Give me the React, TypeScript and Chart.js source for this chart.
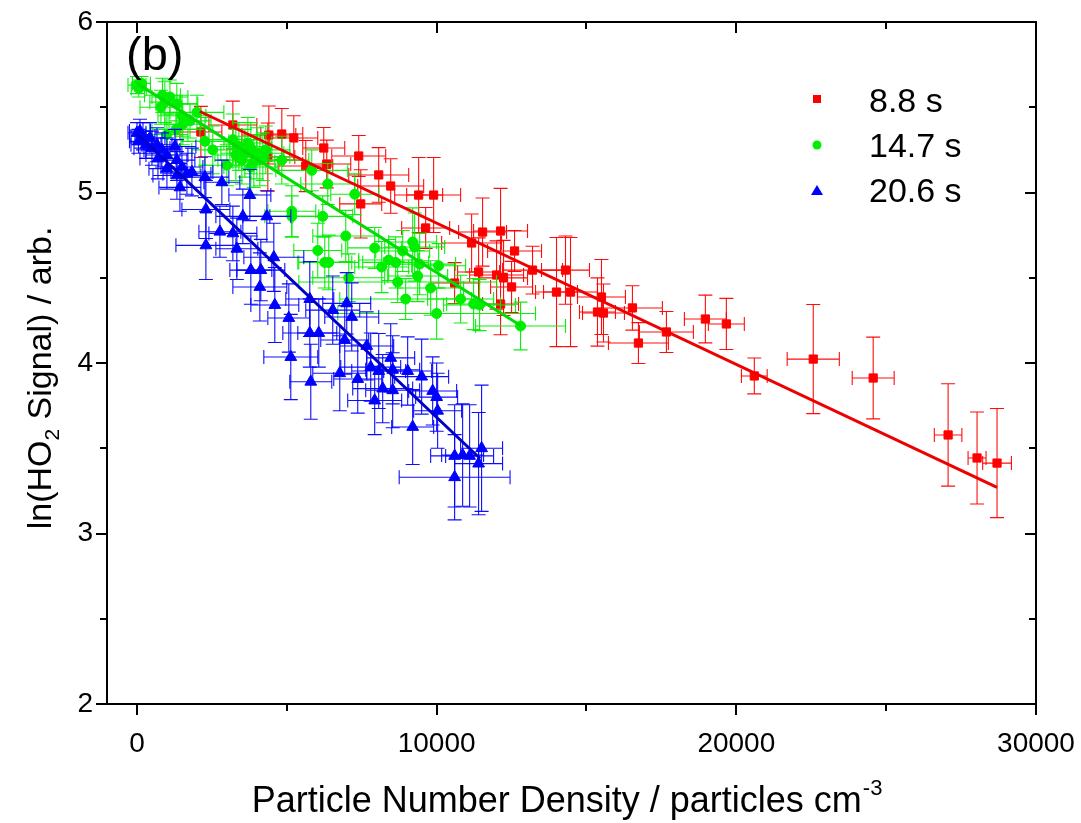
import React, { useEffect, useRef } from 'react';
import { Chart, registerables } from 'chart.js';

Chart.register(...registerables);

// ---------- Data ----------
const seriesLabels = ['8.8 s', '14.7 s', '20.6 s'];
const seriesColors = ['#ff0000', '#00ee00', '#0000ff'];
const lineColors = ['#ee0000', '#00dd00', '#0000cc'];

const redX = [2133, 3200, 4400, 4833, 5233, 6233, 6333, 4367, 5633, 7400, 7467, 8067, 8467, 9400, 9900, 9633, 11167, 11533, 12133, 12600, 11400, 12000, 12233, 12500, 12133, 13200, 10600, 14300, 14000, 14467, 15500, 15367, 15567, 16533, 16733, 17667, 18967, 19667, 20600, 22567, 24567, 27067, 28033, 28700];
const redY = [5.355, 5.396, 5.337, 5.343, 5.32, 5.261, 5.167, 5.208, 5.155, 5.214, 4.933, 5.103, 5.038, 4.985, 4.985, 4.792, 4.704, 4.768, 4.774, 4.657, 4.534, 4.516, 4.499, 4.446, 4.346, 4.545, 4.469, 4.545, 4.416, 4.416, 4.387, 4.299, 4.293, 4.323, 4.117, 4.182, 4.258, 4.229, 3.924, 4.023, 3.912, 3.578, 3.443, 3.413];
const redXErr = [700, 800, 900, 700, 800, 700, 800, 900, 900, 900, 700, 1000, 1100, 800, 900, 800, 1000, 800, 900, 900, 700, 900, 800, 700, 600, 1000, 800, 800, 700, 900, 800, 600, 700, 1000, 1000, 900, 700, 600, 430, 870, 700, 460, 300, 480];
const redYErr = [0.15, 0.14, 0.17, 0.15, 0.13, 0.12, 0.14, 0.2, 0.15, 0.12, 0.2, 0.16, 0.16, 0.22, 0.22, 0.12, 0.17, 0.2, 0.25, 0.12, 0.2, 0.2, 0.22, 0.15, 0.18, 0.14, 0.12, 0.2, 0.32, 0.32, 0.22, 0.2, 0.17, 0.13, 0.12, 0.12, 0.14, 0.15, 0.105, 0.32, 0.24, 0.3, 0.27, 0.32];

const greenX = [0, 60, 150, 850, 930, 800, 1100, 1330, 1500, 1770, 2000, 1530, 1000, 1300, 2270, 2530, 3000, 3200, 3400, 3600, 3800, 4000, 3500, 3800, 4100, 4300, 3300, 3700, 4200, 3900, 4833, 5833, 6367, 7267, 5167, 5167, 6200, 6967, 6033, 6267, 6400, 7067, 7933, 8167, 8400, 8633, 8867, 9200, 9267, 9433, 9367, 8700, 10067, 9800, 8967, 10000, 10800, 11233, 11433, 12800];
const greenY = [5.63, 5.61, 5.64, 5.57, 5.53, 5.5, 5.56, 5.52, 5.45, 5.42, 5.47, 5.4, 5.34, 5.37, 5.3, 5.25, 5.16, 5.31, 5.27, 5.23, 5.26, 5.23, 5.19, 5.15, 5.19, 5.25, 5.22, 5.29, 5.21, 5.18, 5.19, 5.13, 5.05, 4.99, 4.89, 4.86, 4.86, 4.745, 4.66, 4.59, 4.59, 4.5, 4.675, 4.563, 4.604, 4.59, 4.657, 4.71, 4.68, 4.58, 4.51, 4.475, 4.57, 4.44, 4.375, 4.29, 4.375, 4.346, 4.34, 4.217];
const greenXErr = [300, 250, 300, 600, 500, 700, 600, 700, 800, 700, 900, 600, 700, 800, 800, 700, 900, 800, 900, 800, 700, 900, 800, 900, 800, 800, 700, 800, 900, 700, 900, 1200, 900, 800, 800, 900, 1000, 1100, 800, 900, 1000, 1200, 900, 900, 1000, 1100, 900, 800, 1000, 1200, 1000, 3300, 900, 1100, 2200, 3300, 1100, 900, 1200, 1500];
const greenYErr = [0.05, 0.05, 0.04, 0.1, 0.12, 0.1, 0.1, 0.12, 0.12, 0.1, 0.1, 0.12, 0.12, 0.1, 0.14, 0.14, 0.12, 0.15, 0.14, 0.14, 0.15, 0.15, 0.14, 0.16, 0.15, 0.14, 0.15, 0.15, 0.14, 0.15, 0.14, 0.12, 0.12, 0.12, 0.15, 0.12, 0.12, 0.15, 0.16, 0.15, 0.16, 0.14, 0.12, 0.15, 0.12, 0.15, 0.12, 0.2, 0.2, 0.18, 0.15, 0.12, 0.13, 0.16, 0.12, 0.15, 0.14, 0.15, 0.15, 0.14];

const blueX = [0, 100, 200, 50, 300, 433, 500, 667, 833, 1000, 700, 1267, 1333, 1500, 1667, 1833, 2267, 1333, 1433, 2833, 1000, 3767, 2300, 3533, 4333, 2767, 3200, 2300, 3333, 3800, 4133, 4100, 4567, 4600, 5067, 5133, 5767, 5767, 6067, 5800, 6533, 7000, 7167, 6933, 6767, 7367, 7667, 7800, 8067, 8467, 8533, 8200, 8533, 9033, 9500, 9867, 10000, 10033, 7933, 9200, 10600, 10867, 11100, 11500, 11400, 10600];
const blueY = [5.35, 5.36, 5.33, 5.3, 5.28, 5.32, 5.26, 5.28, 5.25, 5.22, 5.2, 5.27, 5.19, 5.15, 5.11, 5.12, 5.09, 5.1, 5.03, 5.06, 5.14, 4.985, 4.9, 4.86, 4.86, 4.77, 4.76, 4.69, 4.67, 4.545, 4.545, 4.446, 4.62, 4.34, 4.264, 4.035, 4.375, 4.176, 4.176, 3.89, 4.31, 4.35, 4.27, 4.135, 3.94, 3.906, 4.1, 3.976, 3.953, 4.03, 3.96, 3.85, 3.84, 3.953, 3.92, 3.836, 3.8, 3.72, 3.78, 3.625, 3.455, 3.46, 3.455, 3.5, 3.41, 3.33];
const blueXErr = [300, 350, 400, 300, 500, 500, 600, 500, 600, 700, 600, 700, 600, 700, 800, 700, 800, 800, 700, 600, 600, 700, 800, 900, 800, 700, 800, 1000, 700, 700, 800, 900, 1000, 800, 700, 900, 800, 900, 700, 700, 900, 800, 900, 800, 900, 800, 900, 1000, 900, 800, 900, 1000, 900, 800, 900, 800, 700, 800, 900, 700, 800, 700, 800, 700, 800, 1850];
const blueYErr = [0.06, 0.07, 0.08, 0.07, 0.08, 0.09, 0.1, 0.1, 0.1, 0.1, 0.12, 0.1, 0.12, 0.12, 0.12, 0.14, 0.12, 0.14, 0.14, 0.13, 0.12, 0.15, 0.17, 0.16, 0.15, 0.15, 0.16, 0.2, 0.18, 0.2, 0.18, 0.2, 0.2, 0.22, 0.2, 0.25, 0.22, 0.2, 0.2, 0.22, 0.2, 0.18, 0.2, 0.2, 0.22, 0.2, 0.2, 0.2, 0.22, 0.2, 0.2, 0.2, 0.22, 0.2, 0.22, 0.2, 0.2, 0.22, 0.2, 0.22, 0.3, 0.3, 0.3, 0.37, 0.3, 0.25];

// Linear fit lines (end points)
const redFitX = [2100, 28700];
const redFitY = [5.475, 3.27];
const greenFitX = [0, 12800];
const greenFitY = [5.64, 4.22];
const blueFitX = [0, 11450];
const blueFitY = [5.345, 3.44];

const xMajorTicks = [0, 10000, 20000, 30000];
const xMinorTicks = [5000, 15000, 25000];
const yMajorTicks = [2, 3, 4, 5, 6];
const yMinorTicks = [2.5, 3.5, 4.5, 5.5];

const xTitle = 'Particle Number Density / particles cm';
const xTitleSup = '-3';
const yTitleParts = ['ln(HO', '2', ' Signal) / arb.'];
const panelLabel = '(b)';

const FONT = '"Liberation Sans", Arial, Helvetica, sans-serif';

const toPts = (xs: number[], ys: number[]) => xs.map((x, i) => ({ x, y: ys[i] }));

const errorBarPlugin = {
  id: 'errorBars',
  beforeDatasetDraw(chart: any, args: any) {
    const ds = chart.data.datasets[args.index];
    if (!ds.errX) return;
    const xs = chart.scales.x;
    const ys = chart.scales.y;
    const ctx = chart.ctx;
    const area = chart.chartArea;
    const cap = 7;
    ctx.save();
    ctx.beginPath();
    ctx.rect(area.left, area.top, area.right - area.left, area.bottom - area.top);
    ctx.clip();
    ctx.strokeStyle = ds.borderColor;
    ctx.globalAlpha = 0.95;
    ctx.lineWidth = 1.1;
    ds.data.forEach((p: any, i: number) => {
      const ex = ds.errX[i];
      const ey = ds.errY[i];
      const px = xs.getPixelForValue(p.x);
      const py = ys.getPixelForValue(p.y);
      const x1 = xs.getPixelForValue(p.x - ex);
      const x2 = xs.getPixelForValue(p.x + ex);
      const y1 = ys.getPixelForValue(p.y - ey);
      const y2 = ys.getPixelForValue(p.y + ey);
      ctx.beginPath();
      ctx.moveTo(x1, py); ctx.lineTo(x2, py);
      ctx.moveTo(x1, py - cap); ctx.lineTo(x1, py + cap);
      ctx.moveTo(x2, py - cap); ctx.lineTo(x2, py + cap);
      ctx.moveTo(px, y1); ctx.lineTo(px, y2);
      ctx.moveTo(px - cap, y1); ctx.lineTo(px + cap, y1);
      ctx.moveTo(px - cap, y2); ctx.lineTo(px + cap, y2);
      ctx.stroke();
    });
    ctx.restore();
  },
};

const framePlugin = {
  id: 'frameDeco',
  afterDraw(chart: any) {
    const ctx = chart.ctx;
    const { left, right, top, bottom } = chart.chartArea;
    const xs = chart.scales.x;
    const ys = chart.scales.y;
    ctx.save();
    ctx.strokeStyle = '#000';
    ctx.lineWidth = 2;
    ctx.strokeRect(left, top, right - left, bottom - top);
    const major = 11;
    const minor = 7;
    ctx.beginPath();
    const xt = (v: number, len: number) => {
      const px = Math.round(xs.getPixelForValue(v));
      ctx.moveTo(px, bottom); ctx.lineTo(px, bottom + len);
      ctx.moveTo(px, top); ctx.lineTo(px, top + len);
    };
    const yt = (v: number, len: number) => {
      const py = Math.round(ys.getPixelForValue(v));
      ctx.moveTo(left, py); ctx.lineTo(left - len, py);
      ctx.moveTo(right, py); ctx.lineTo(right - len, py);
    };
    xMajorTicks.forEach((v) => xt(v, major));
    xMinorTicks.forEach((v) => xt(v, minor));
    yMajorTicks.forEach((v) => yt(v, major));
    yMinorTicks.forEach((v) => yt(v, minor));
    ctx.stroke();

    // Axis titles
    ctx.fillStyle = '#000';
    ctx.textBaseline = 'alphabetic';
    // x title
    const bigX = `36px ${FONT}`;
    const smallX = `22px ${FONT}`;
    ctx.font = bigX;
    const w1 = ctx.measureText(xTitle).width;
    ctx.font = smallX;
    const w2 = ctx.measureText(xTitleSup).width;
    const cx = (left + right) / 2 - 5;
    const startX = cx - (w1 + w2) / 2;
    ctx.font = bigX;
    ctx.textAlign = 'left';
    ctx.fillText(xTitle, startX, 812);
    ctx.font = smallX;
    ctx.fillText(xTitleSup, startX + w1 + 1, 795);

    // y title
    const bigY = `34px ${FONT}`;
    const smallY = `21px ${FONT}`;
    ctx.save();
    ctx.translate(51, 378);
    ctx.rotate(-Math.PI / 2);
    ctx.font = bigY;
    const a = ctx.measureText(yTitleParts[0]).width;
    const c = ctx.measureText(yTitleParts[2]).width;
    ctx.font = smallY;
    const b = ctx.measureText(yTitleParts[1]).width;
    let sx = -(a + b + c) / 2;
    ctx.font = bigY;
    ctx.fillText(yTitleParts[0], sx, 0);
    sx += a;
    ctx.font = smallY;
    ctx.fillText(yTitleParts[1], sx, 8);
    sx += b;
    ctx.font = bigY;
    ctx.fillText(yTitleParts[2], sx, 0);
    ctx.restore();

    // panel label
    ctx.font = `47px ${FONT}`;
    ctx.textAlign = 'left';
    ctx.fillText(panelLabel, 126, 70);

    // legend
    const legendY = [99, 145, 190];
    const legendBase = [112, 157, 202];
    const mx = 817;
    seriesLabels.forEach((lab, i) => {
      ctx.fillStyle = seriesColors[i];
      const y = legendY[i];
      if (i === 0) {
        ctx.fillRect(mx - 4, y - 4, 8, 8);
      } else if (i === 1) {
        ctx.beginPath();
        ctx.arc(mx, y, 4.5, 0, Math.PI * 2);
        ctx.fill();
      } else {
        ctx.beginPath();
        ctx.moveTo(mx, y - 5);
        ctx.lineTo(mx + 6, y + 5);
        ctx.lineTo(mx - 6, y + 5);
        ctx.closePath();
        ctx.fill();
      }
      ctx.fillStyle = '#000';
      ctx.font = `34px ${FONT}`;
      ctx.fillText(lab, 869, legendBase[i]);
    });
    ctx.restore();
  },
};

export default function App() {
  const ref = useRef<HTMLCanvasElement>(null);
  useEffect(() => {
    document.body.style.margin = '0';
    const canvas = ref.current;
    if (!canvas) return;
    const pointDs = (i: number, xs: number[], ys: number[], ex: number[], ey: number[], style: string, r: number) => ({
      type: 'scatter' as const,
      label: seriesLabels[i],
      data: toPts(xs, ys),
      errX: ex,
      errY: ey,
      pointStyle: style,
      pointRadius: r,
      pointHoverRadius: r,
      backgroundColor: seriesColors[i],
      borderColor: seriesColors[i],
      borderWidth: 1,
      showLine: false,
      order: 6 - i,
    });
    const lineDs = (i: number, xs: number[], ys: number[]) => ({
      type: 'line' as const,
      label: seriesLabels[i] + ' fit',
      data: toPts(xs, ys),
      borderColor: lineColors[i],
      backgroundColor: lineColors[i],
      borderWidth: 3,
      pointRadius: 0,
      showLine: true,
      fill: false,
      order: 1,
    });
    const chart = new Chart(canvas, {
      type: 'scatter',
      data: {
        datasets: [
          pointDs(0, redX, redY, redXErr, redYErr, 'rect', 5.8),
          pointDs(1, greenX, greenY, greenXErr, greenYErr, 'circle', 5),
          pointDs(2, blueX, blueY, blueXErr, blueYErr, 'triangle', 6.8),
          lineDs(0, redFitX, redFitY),
          lineDs(1, greenFitX, greenFitY),
          lineDs(2, blueFitX, blueFitY),
        ] as any,
      },
      options: {
        animation: false,
        responsive: false,
        devicePixelRatio: 1,
        layout: { padding: { left: 0, right: 45, top: 22, bottom: 0 } },
        plugins: {
          legend: { display: false },
          tooltip: { enabled: false },
        },
        scales: {
          x: {
            type: 'linear',
            min: -1000,
            max: 30000,
            grid: { display: false, drawTicks: false },
            border: { display: false },
            afterBuildTicks: (s: any) => { s.ticks = xMajorTicks.map((v) => ({ value: v })); },
            afterFit: (s: any) => { s.height = 119; s.paddingLeft = 0; s.paddingRight = 0; },
            ticks: {
              color: '#000',
              font: { family: FONT, size: 28 },
              padding: 23,
              maxRotation: 0,
              autoSkip: false,
              callback: (v: any) => String(v),
            },
          },
          y: {
            type: 'linear',
            min: 2,
            max: 6,
            grid: { display: false, drawTicks: false },
            border: { display: false },
            afterBuildTicks: (s: any) => { s.ticks = yMajorTicks.map((v) => ({ value: v })); },
            afterFit: (s: any) => { s.width = 107; s.paddingTop = 0; s.paddingBottom = 0; },
            ticks: {
              color: '#000',
              font: { family: FONT, size: 28 },
              padding: 14,
              autoSkip: false,
              callback: (v: any) => String(v),
            },
          },
        },
      },
      plugins: [errorBarPlugin, framePlugin],
    } as any);
    return () => chart.destroy();
  }, []);
  return (
    <div style={{ width: 1081, height: 823, background: '#fff' }}>
      <canvas ref={ref} width={1081} height={823} style={{ display: 'block' }} />
    </div>
  );
}
